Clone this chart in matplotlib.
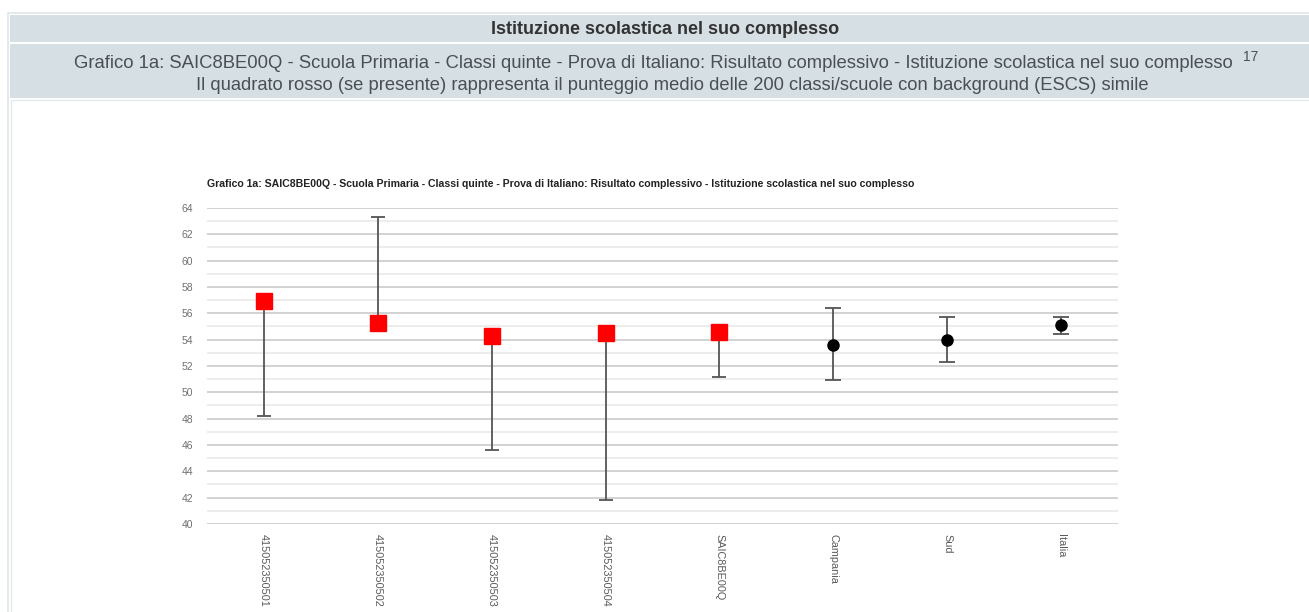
import numpy as np
import matplotlib
matplotlib.use("Agg")
import matplotlib.pyplot as plt
from matplotlib.patches import Rectangle

plt.rcParams['font.family'] = ['Liberation Sans', 'DejaVu Sans']

# data
categories = ['415052350501', '415052350502', '415052350503', '415052350504',
              'SAIC8BE00Q', 'Campania', 'Sud', 'Italia']
scores = [56.9, 55.3, 54.3, 54.5, 54.6, 53.6, 54.0, 55.1]
lower = [48.2, 55.3, 45.6, 41.8, 51.2, 50.9, 52.3, 54.4]
upper = [56.9, 63.3, 54.3, 54.5, 54.6, 56.4, 55.7, 55.7]
is_school = [True, True, True, True, True, False, False, False]

W, H = 1309, 612
fig = plt.figure(figsize=(W / 100, H / 100), dpi=100)
fig.patch.set_facecolor('white')


def px_rect(x0, y0, x1, y1, **kw):
    # rectangle in pixel coords (top-left origin)
    fig.patches.append(Rectangle((x0 / W, 1 - y1 / H), (x1 - x0) / W, (y1 - y0) / H,
                                 transform=fig.transFigure, zorder=-5, **kw))


# page frame and header bars
px_rect(8, 13, 1312, 620, facecolor='none', edgecolor='#dfe5e8', linewidth=1.2)
px_rect(10, 15, 1310, 42, facecolor='#d6e0e4', edgecolor='none')
px_rect(10, 44, 1310, 98, facecolor='#d6e0e4', edgecolor='none')
px_rect(11, 100, 1310, 620, facecolor='white', edgecolor='#e3e8ea', linewidth=1)

fig.text(665 / W, 1 - 29 / H, 'Istituzione scolastica nel suo complesso',
         ha='center', va='center', fontsize=13, fontweight='bold', color='#333333')
fig.text(653 / W, 1 - 64 / H,
         'Grafico 1a: SAIC8BE00Q - Scuola Primaria - Classi quinte - Prova di Italiano: '
         'Risultato complessivo - Istituzione scolastica nel suo complesso',
         ha='center', va='center', fontsize=13.3, color='#4a4f55')
fig.text(1243 / W, 1 - 57 / H, '17', ha='left', va='center', fontsize=10, color='#4a4f55')
fig.text(672 / W, 1 - 85 / H,
         'Il quadrato rosso (se presente) rappresenta il punteggio medio delle 200 '
         'classi/scuole con background (ESCS) simile',
         ha='center', va='center', fontsize=13.2, color='#4a4f55')

# chart
ax = fig.add_axes([207 / W, 1 - 524 / H, (1118 - 207) / W, (524 - 208) / H])
ax.set_zorder(2)
ax.patch.set_alpha(0)
x = np.arange(len(categories))
ax.set_xlim(-0.5, len(categories) - 0.5)
ax.set_ylim(40, 64)

for v in np.arange(40, 65, 1):
    ax.axhline(v, color='#cfcfcf' if v % 2 == 0 else '#ececec',
               linewidth=1.3, zorder=0)

for i in range(len(categories)):
    err = [[scores[i] - lower[i]], [upper[i] - scores[i]]]
    if is_school[i]:
        ax.errorbar(x[i], scores[i], yerr=err, fmt='s', color='red', markersize=11,
                    ecolor='#555555', elinewidth=1.3, capsize=5, capthick=1.3, zorder=3)
    else:
        ax.errorbar(x[i], scores[i], yerr=err, fmt='o', color='black', markersize=8,
                    ecolor='#555555', elinewidth=1.3, capsize=6, capthick=1.3, zorder=3)

for s in ax.spines.values():
    s.set_visible(False)
ax.set_yticks(np.arange(40, 65, 2))
ax.set_xticks(x)
ax.set_xticklabels(categories, rotation=270, fontsize=7.8, va='top')
ax.tick_params(axis='both', length=0, labelsize=7.5, colors='#707070', pad=10)
ax.tick_params(axis='x', pad=7, labelsize=7.8, colors='#5a5a5a')
ax.text(0, 1.075, 'Grafico 1a: SAIC8BE00Q - Scuola Primaria - Classi quinte - Prova di Italiano: '
        'Risultato complessivo - Istituzione scolastica nel suo complesso',
        transform=ax.transAxes, fontsize=7.6, fontweight='bold', color='#222222',
        ha='left', va='center')

fig.savefig('out.png', dpi=100)
